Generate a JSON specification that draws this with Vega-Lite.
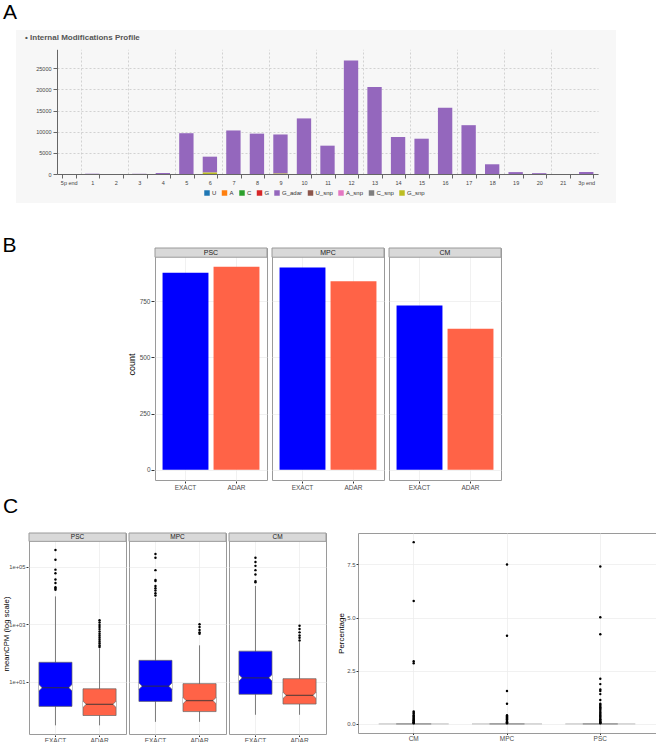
{
  "$schema": "https://vega.github.io/schema/vega-lite/v6.json",
  "padding": {"left": 1, "top": 2, "right": 0, "bottom": 0},
  "background": "white",
  "spacing": 5,
  "resolve": {"scale": {"color": "independent"}},
  "config": {
    "font": "Liberation Sans",
    "view": {"stroke": "#9a9a9a", "strokeWidth": 1},
    "axis": {"labelFont": "Liberation Sans", "titleFont": "Liberation Sans", "titleFontWeight": "normal", "labelOverlap": false},
    "title": {"font": "Liberation Sans", "fontWeight": "normal", "color": "black"}
  },
  "datasets": {
    "spacer": [],
    "mods": [
      {"position": "5p end", "type": "G_adar", "count": 0},
      {"position": "1", "type": "G_adar", "count": 70},
      {"position": "2", "type": "G_adar", "count": 0},
      {"position": "3", "type": "G_adar", "count": 50},
      {"position": "4", "type": "G_adar", "count": 240},
      {"position": "5", "type": "G_adar", "count": 9650},
      {"position": "6", "type": "G_adar", "count": 3750},
      {"position": "6", "type": "G_snp", "count": 350},
      {"position": "7", "type": "G_adar", "count": 10300},
      {"position": "8", "type": "G_adar", "count": 9550},
      {"position": "9", "type": "G_adar", "count": 9250},
      {"position": "9", "type": "G_snp", "count": 100},
      {"position": "10", "type": "G_adar", "count": 13150},
      {"position": "11", "type": "G_adar", "count": 6700},
      {"position": "12", "type": "G_adar", "count": 26850},
      {"position": "13", "type": "G_adar", "count": 20600},
      {"position": "14", "type": "G_adar", "count": 8750},
      {"position": "15", "type": "G_adar", "count": 8350},
      {"position": "16", "type": "G_adar", "count": 15650},
      {"position": "17", "type": "G_adar", "count": 11550},
      {"position": "18", "type": "G_adar", "count": 2300},
      {"position": "19", "type": "G_adar", "count": 450},
      {"position": "20", "type": "G_adar", "count": 200},
      {"position": "21", "type": "G_adar", "count": 0},
      {"position": "3p end", "type": "G_adar", "count": 480}
    ],
    "counts": [
      {"stage": "PSC", "method": "EXACT", "count": 876},
      {"stage": "PSC", "method": "ADAR", "count": 903},
      {"stage": "MPC", "method": "EXACT", "count": 899},
      {"stage": "MPC", "method": "ADAR", "count": 838},
      {"stage": "CM", "method": "EXACT", "count": 730},
      {"stage": "CM", "method": "ADAR", "count": 627}
    ],
    "cpm": [
      {"stage": "PSC", "method": "EXACT", "kind": "box", "lower": 0.31, "q1": 1.41, "median": 6.3, "q3": 48, "upper": 9300},
      {"stage": "PSC", "method": "ADAR", "kind": "box", "lower": 0.31, "q1": 0.68, "median": 1.66, "q3": 5.75, "upper": 145},
      {"stage": "MPC", "method": "EXACT", "kind": "box", "lower": 0.41, "q1": 2.1, "median": 7.1, "q3": 56, "upper": 8100},
      {"stage": "MPC", "method": "ADAR", "kind": "box", "lower": 0.41, "q1": 0.93, "median": 2.24, "q3": 8.7, "upper": 186},
      {"stage": "CM", "method": "EXACT", "kind": "box", "lower": 0.72, "q1": 3.7, "median": 13.8, "q3": 117, "upper": 21400},
      {"stage": "CM", "method": "ADAR", "kind": "box", "lower": 0.72, "q1": 1.7, "median": 3.4, "q3": 12.9, "upper": 240},
      {"stage": "PSC", "method": "EXACT", "kind": "outlier", "value": 380000},
      {"stage": "PSC", "method": "EXACT", "kind": "outlier", "value": 174000},
      {"stage": "PSC", "method": "EXACT", "kind": "outlier", "value": 79000},
      {"stage": "PSC", "method": "EXACT", "kind": "outlier", "value": 59000},
      {"stage": "PSC", "method": "EXACT", "kind": "outlier", "value": 36000},
      {"stage": "PSC", "method": "EXACT", "kind": "outlier", "value": 27000},
      {"stage": "PSC", "method": "EXACT", "kind": "outlier", "value": 19500},
      {"stage": "PSC", "method": "EXACT", "kind": "outlier", "value": 17500},
      {"stage": "PSC", "method": "EXACT", "kind": "outlier", "value": 15800},
      {"stage": "PSC", "method": "ADAR", "kind": "outlier", "value": 1380},
      {"stage": "PSC", "method": "ADAR", "kind": "outlier", "value": 1150},
      {"stage": "PSC", "method": "ADAR", "kind": "outlier", "value": 950},
      {"stage": "PSC", "method": "ADAR", "kind": "outlier", "value": 800},
      {"stage": "PSC", "method": "ADAR", "kind": "outlier", "value": 680},
      {"stage": "PSC", "method": "ADAR", "kind": "outlier", "value": 560},
      {"stage": "PSC", "method": "ADAR", "kind": "outlier", "value": 470},
      {"stage": "PSC", "method": "ADAR", "kind": "outlier", "value": 400},
      {"stage": "PSC", "method": "ADAR", "kind": "outlier", "value": 340},
      {"stage": "PSC", "method": "ADAR", "kind": "outlier", "value": 290},
      {"stage": "PSC", "method": "ADAR", "kind": "outlier", "value": 250},
      {"stage": "PSC", "method": "ADAR", "kind": "outlier", "value": 215},
      {"stage": "PSC", "method": "ADAR", "kind": "outlier", "value": 185},
      {"stage": "PSC", "method": "ADAR", "kind": "outlier", "value": 162},
      {"stage": "MPC", "method": "EXACT", "kind": "outlier", "value": 275000},
      {"stage": "MPC", "method": "EXACT", "kind": "outlier", "value": 204000},
      {"stage": "MPC", "method": "EXACT", "kind": "outlier", "value": 76000},
      {"stage": "MPC", "method": "EXACT", "kind": "outlier", "value": 34700},
      {"stage": "MPC", "method": "EXACT", "kind": "outlier", "value": 31600},
      {"stage": "MPC", "method": "EXACT", "kind": "outlier", "value": 21400},
      {"stage": "MPC", "method": "EXACT", "kind": "outlier", "value": 17800},
      {"stage": "MPC", "method": "EXACT", "kind": "outlier", "value": 14800},
      {"stage": "MPC", "method": "EXACT", "kind": "outlier", "value": 12000},
      {"stage": "MPC", "method": "EXACT", "kind": "outlier", "value": 10000},
      {"stage": "MPC", "method": "ADAR", "kind": "outlier", "value": 1000},
      {"stage": "MPC", "method": "ADAR", "kind": "outlier", "value": 810},
      {"stage": "MPC", "method": "ADAR", "kind": "outlier", "value": 630},
      {"stage": "MPC", "method": "ADAR", "kind": "outlier", "value": 525},
      {"stage": "MPC", "method": "ADAR", "kind": "outlier", "value": 470},
      {"stage": "CM", "method": "EXACT", "kind": "outlier", "value": 204000},
      {"stage": "CM", "method": "EXACT", "kind": "outlier", "value": 145000},
      {"stage": "CM", "method": "EXACT", "kind": "outlier", "value": 107000},
      {"stage": "CM", "method": "EXACT", "kind": "outlier", "value": 76000},
      {"stage": "CM", "method": "EXACT", "kind": "outlier", "value": 54000},
      {"stage": "CM", "method": "EXACT", "kind": "outlier", "value": 31600},
      {"stage": "CM", "method": "EXACT", "kind": "outlier", "value": 28800},
      {"stage": "CM", "method": "ADAR", "kind": "outlier", "value": 890},
      {"stage": "CM", "method": "ADAR", "kind": "outlier", "value": 690},
      {"stage": "CM", "method": "ADAR", "kind": "outlier", "value": 525},
      {"stage": "CM", "method": "ADAR", "kind": "outlier", "value": 410},
      {"stage": "CM", "method": "ADAR", "kind": "outlier", "value": 340},
      {"stage": "CM", "method": "ADAR", "kind": "outlier", "value": 275}
    ],
    "pct": [
      {"stage": "CM", "kind": "box", "q1": 0, "median": 0, "q3": 0},
      {"stage": "MPC", "kind": "box", "q1": 0, "median": 0, "q3": 0},
      {"stage": "PSC", "kind": "box", "q1": 0, "median": 0, "q3": 0},
      {"stage": "CM", "kind": "outlier", "Percentage": 8.55},
      {"stage": "CM", "kind": "outlier", "Percentage": 5.78},
      {"stage": "CM", "kind": "outlier", "Percentage": 2.95},
      {"stage": "CM", "kind": "outlier", "Percentage": 2.85},
      {"stage": "CM", "kind": "outlier", "Percentage": 0.58},
      {"stage": "CM", "kind": "outlier", "Percentage": 0.52},
      {"stage": "CM", "kind": "outlier", "Percentage": 0.47},
      {"stage": "CM", "kind": "outlier", "Percentage": 0.41},
      {"stage": "CM", "kind": "outlier", "Percentage": 0.36},
      {"stage": "CM", "kind": "outlier", "Percentage": 0.3},
      {"stage": "CM", "kind": "outlier", "Percentage": 0.25},
      {"stage": "CM", "kind": "outlier", "Percentage": 0.21},
      {"stage": "CM", "kind": "outlier", "Percentage": 0.17},
      {"stage": "CM", "kind": "outlier", "Percentage": 0.13},
      {"stage": "CM", "kind": "outlier", "Percentage": 0.1},
      {"stage": "CM", "kind": "outlier", "Percentage": 0.07},
      {"stage": "CM", "kind": "outlier", "Percentage": 0.05},
      {"stage": "CM", "kind": "outlier", "Percentage": 0.03},
      {"stage": "MPC", "kind": "outlier", "Percentage": 7.5},
      {"stage": "MPC", "kind": "outlier", "Percentage": 4.15},
      {"stage": "MPC", "kind": "outlier", "Percentage": 1.55},
      {"stage": "MPC", "kind": "outlier", "Percentage": 0.95},
      {"stage": "MPC", "kind": "outlier", "Percentage": 0.41},
      {"stage": "MPC", "kind": "outlier", "Percentage": 0.36},
      {"stage": "MPC", "kind": "outlier", "Percentage": 0.31},
      {"stage": "MPC", "kind": "outlier", "Percentage": 0.26},
      {"stage": "MPC", "kind": "outlier", "Percentage": 0.22},
      {"stage": "MPC", "kind": "outlier", "Percentage": 0.18},
      {"stage": "MPC", "kind": "outlier", "Percentage": 0.14},
      {"stage": "MPC", "kind": "outlier", "Percentage": 0.1},
      {"stage": "MPC", "kind": "outlier", "Percentage": 0.07},
      {"stage": "MPC", "kind": "outlier", "Percentage": 0.05},
      {"stage": "MPC", "kind": "outlier", "Percentage": 0.03},
      {"stage": "PSC", "kind": "outlier", "Percentage": 7.4},
      {"stage": "PSC", "kind": "outlier", "Percentage": 5.02},
      {"stage": "PSC", "kind": "outlier", "Percentage": 4.22},
      {"stage": "PSC", "kind": "outlier", "Percentage": 2.12},
      {"stage": "PSC", "kind": "outlier", "Percentage": 1.87},
      {"stage": "PSC", "kind": "outlier", "Percentage": 1.62},
      {"stage": "PSC", "kind": "outlier", "Percentage": 1.55},
      {"stage": "PSC", "kind": "outlier", "Percentage": 1.4},
      {"stage": "PSC", "kind": "outlier", "Percentage": 1.12},
      {"stage": "PSC", "kind": "outlier", "Percentage": 0.95},
      {"stage": "PSC", "kind": "outlier", "Percentage": 0.9},
      {"stage": "PSC", "kind": "outlier", "Percentage": 0.84},
      {"stage": "PSC", "kind": "outlier", "Percentage": 0.78},
      {"stage": "PSC", "kind": "outlier", "Percentage": 0.72},
      {"stage": "PSC", "kind": "outlier", "Percentage": 0.66},
      {"stage": "PSC", "kind": "outlier", "Percentage": 0.6},
      {"stage": "PSC", "kind": "outlier", "Percentage": 0.54},
      {"stage": "PSC", "kind": "outlier", "Percentage": 0.48},
      {"stage": "PSC", "kind": "outlier", "Percentage": 0.42},
      {"stage": "PSC", "kind": "outlier", "Percentage": 0.37},
      {"stage": "PSC", "kind": "outlier", "Percentage": 0.32},
      {"stage": "PSC", "kind": "outlier", "Percentage": 0.27},
      {"stage": "PSC", "kind": "outlier", "Percentage": 0.22},
      {"stage": "PSC", "kind": "outlier", "Percentage": 0.18},
      {"stage": "PSC", "kind": "outlier", "Percentage": 0.14},
      {"stage": "PSC", "kind": "outlier", "Percentage": 0.1},
      {"stage": "PSC", "kind": "outlier", "Percentage": 0.07},
      {"stage": "PSC", "kind": "outlier", "Percentage": 0.05},
      {"stage": "PSC", "kind": "outlier", "Percentage": 0.03}
    ]
  },
  "vconcat": [
    {
      "spacing": 31,
      "resolve": {"scale": {"color": "independent"}},
      "vconcat": [
        {
          "title": {"text": "A", "anchor": "start", "frame": "group", "fontSize": 21, "dx": 2, "offset": 7},
          "spacing": 14,
          "hconcat": [
            {"width": 1, "height": 1, "view": {"stroke": null}, "data": {"name": "spacer"}, "mark": {"type": "point", "opacity": 0}, "encoding": {}},
            {
              "width": 600,
              "height": 173,
              "view": {"fill": "#f7f7f7", "stroke": null},
              "title": {"text": "•  Internal Modifications Profile", "anchor": "start", "frame": "group", "fontSize": 8, "fontWeight": "bold", "color": "#555555", "baseline": "middle", "offset": 0, "dy": 16, "dx": 9},
              "data": {"name": "mods"},
              "layer": [
                {
                  "mark": {"type": "bar", "opacity": 0},
                  "encoding": {
                    "x": {"field": "position", "type": "nominal",
                      "scale": {"domain": ["5p end","1","2","3","4","5","6","7","8","9","10","11","12","13","14","15","16","17","18","19","20","21","3p end"], "range": [41, 582], "paddingInner": 0.39, "paddingOuter": 0.195},
                      "axis": {"orient": "top", "values": ["1","3","5","7","9","11","13","15","17","19","21"], "bandPosition": 0, "tickOffset": -4.6, "grid": true, "gridDash": [2, 2], "gridColor": "#c8c8c8", "gridWidth": 0.8, "labels": false, "ticks": false, "domain": false, "title": null}},
                    "y": {"field": "count", "type": "quantitative",
                      "scale": {"domain": [0, 29500], "range": [144, 19.3], "nice": false},
                      "axis": {"orient": "left", "offset": -41, "values": [0, 5000, 10000, 15000, 20000, 25000], "format": "d", "labelFontSize": 5.5, "labelColor": "#444", "tickSize": 4, "tickColor": "#666", "domainColor": "#666", "grid": true, "gridDash": [2, 2], "gridColor": "#c8c8c8", "gridWidth": 0.8, "title": null, "labelPadding": 2, "labelOverlap": false}}
                  }
                },
                {
                  "mark": {"type": "bar"},
                  "encoding": {
                    "x": {"field": "position", "type": "nominal",
                      "axis": {"orient": "bottom", "offset": -29, "tickBand": "extent", "labelAngle": 0, "labelFontSize": 5.5, "labelColor": "#444", "tickSize": 4, "tickColor": "#666", "domainColor": "#666", "grid": false, "title": null, "labelPadding": 2}},
                    "y": {"field": "count", "type": "quantitative",
                      "axis": {"orient": "left", "offset": -41, "values": [0, 5000, 10000, 15000, 20000, 25000], "format": "d", "labelFontSize": 5.5, "labelColor": "#444", "tickSize": 4, "tickColor": "#666", "domainColor": "#666", "grid": true, "gridDash": [2, 2], "gridColor": "#c8c8c8", "gridWidth": 0.8, "title": null, "labelPadding": 2, "labelOverlap": false}},
                    "color": {"field": "type", "type": "nominal",
                      "scale": {"domain": ["U","A","C","G","G_adar","U_snp","A_snp","C_snp","G_snp"], "range": ["#1f77b4","#ff7f0e","#2ca02c","#d62728","#9467bd","#8c564b","#e377c2","#7f7f7f","#bcbd22"]},
                      "legend": {"orient": "none", "legendX": 203, "legendY": 160, "direction": "horizontal", "title": null, "symbolType": "square", "symbolSize": 30, "symbolStrokeWidth": 0, "symbolOpacity": 1, "labelFontSize": 6, "labelColor": "#333", "columnPadding": 4.5, "labelOffset": 2, "padding": 0}},
                    "order": {"field": "type", "sort": "descending"}
                  }
                }
              ],
              "resolve": {"axis": {"x": "independent"}}
            }
          ]
        },
        {
          "title": {"text": "B", "anchor": "start", "frame": "group", "fontSize": 21, "dx": 1.5, "offset": -8.6},
          "spacing": 125,
          "hconcat": [
            {"width": 1, "height": 1, "view": {"stroke": null}, "data": {"name": "spacer"}, "mark": {"type": "point", "opacity": 0}, "encoding": {}},
            {
              "data": {"name": "counts"},
              "facet": {"column": {"field": "stage", "type": "nominal", "sort": ["PSC","MPC","CM"], "header": {"title": null, "labels": false}}},
              "spacing": 3,
              "spec": {
                "width": 112,
                "height": 232,
                "encoding": {
                  "x": {"field": "method", "type": "nominal", "sort": ["EXACT","ADAR"],
                    "scale": {"paddingInner": 0.1, "paddingOuter": 0.148},
                    "axis": {"title": null, "labelAngle": 0, "labelFontSize": 6.5, "labelColor": "#4d4d4d", "tickSize": 2, "tickColor": "#333", "domain": false, "grid": true, "gridColor": "#ebebeb", "gridWidth": 0.7, "bandPosition": 0.5, "labelPadding": 1}}
                },
                "layer": [
                  {
                    "mark": {"type": "bar"},
                    "encoding": {
                      "y": {"field": "count", "type": "quantitative",
                        "scale": {"domain": [-45, 986], "nice": false, "zero": false},
                        "axis": {"values": [0, 250, 500, 750], "title": "count", "titleFontSize": 9, "titleColor": "black", "labelFontSize": 6.5, "labelColor": "#4d4d4d", "tickColor": "#333", "tickSize": 3, "domain": false, "gridColor": "#ebebeb", "gridWidth": 0.7, "labelPadding": 1, "titlePadding": 3}},
                      "color": {"field": "method", "type": "nominal", "scale": {"domain": ["EXACT","ADAR"], "range": ["#0000ff","#ff6347"]}, "legend": null}
                    }
                  },
                  {
                    "transform": [{"filter": "datum.method === 'EXACT'"}],
                    "mark": {"type": "rect", "fill": "#d9d9d9", "stroke": "#9a9a9a", "strokeWidth": 1},
                    "encoding": {"x": {"value": 0}, "x2": {"value": "width"}, "y": {"datum": 945}, "y2": {"datum": 986}}
                  },
                  {
                    "transform": [{"filter": "datum.method === 'EXACT'"}],
                    "mark": {"type": "text", "fontSize": 7, "color": "#1a1a1a", "baseline": "middle", "align": "center", "dx": 2.5},
                    "encoding": {
                      "x": {"field": "method", "type": "nominal", "bandPosition": 1},
                      "y": {"datum": 965.5},
                      "text": {"field": "stage"}
                    }
                  }
                ]
              }
            }
          ]
        }
      ]
    },
    {
      "title": {"text": "C", "anchor": "start", "frame": "group", "fontSize": 21, "offset": 15, "dx": 2},
      "spacing": 0,
      "hconcat": [
        {"width": 1, "height": 1, "view": {"stroke": null}, "data": {"name": "spacer"}, "mark": {"type": "point", "opacity": 0}, "encoding": {}},
        {
          "spacing": 10,
          "hconcat": [
            {
              "data": {"name": "cpm"},
              "facet": {"column": {"field": "stage", "type": "nominal", "sort": ["PSC","MPC","CM"], "header": {"title": null, "labels": false}}},
              "spacing": 1,
              "spec": {
                "width": 97,
                "height": 201,
                "encoding": {
                  "x": {"field": "method", "type": "nominal", "sort": ["EXACT","ADAR"],
                    "scale": {"paddingInner": 0.25, "paddingOuter": 0.225},
                    "axis": {"title": null, "labelAngle": 0, "labelFontSize": 6.5, "labelColor": "#4d4d4d", "tickSize": 1.5, "tickColor": "#333", "domain": false, "grid": true, "gridColor": "#ebebeb", "gridWidth": 0.7, "bandPosition": 0.5, "labelPadding": 0.5}}
                },
                "layer": [
                  {
                    "transform": [{"filter": "datum.kind === 'box'"}],
                    "mark": {"type": "rule", "color": "#7a7a7a", "strokeWidth": 1},
                    "encoding": {
                      "y": {"field": "lower", "type": "quantitative",
                        "scale": {"type": "log", "domain": [0.155, 1480000], "nice": false},
                        "axis": {"values": [10, 1000, 100000], "labelExpr": "replace(format(datum.value, '.0e'), '+', '+0')", "title": "meanCPM (log scale)", "titleFontSize": 7.8, "titleColor": "black", "labelFontSize": 5.8, "labelColor": "#4d4d4d", "tickColor": "#333", "tickSize": 2, "domain": false, "gridColor": "#ebebeb", "gridWidth": 0.7, "labelPadding": 1, "titlePadding": 0, "maxExtent": 18}},
                      "y2": {"field": "upper"}
                    }
                  },
                  {
                    "transform": [{"filter": "datum.kind === 'box'"}],
                    "mark": {"type": "bar", "stroke": "#666", "strokeWidth": 0.7},
                    "encoding": {
                      "y": {"field": "q1", "type": "quantitative"},
                      "y2": {"field": "q3"},
                      "color": {"field": "method", "type": "nominal", "scale": {"domain": ["EXACT","ADAR"], "range": ["#0000ff","#ff6347"]}, "legend": null}
                    }
                  },
                  {
                    "transform": [{"filter": "datum.kind === 'box'"}],
                    "mark": {"type": "point", "shape": "M0,-1L1,0L0,1", "size": 40, "fill": "white", "stroke": "#666", "strokeWidth": 0.7, "opacity": 1, "filled": true},
                    "encoding": {
                      "x": {"field": "method", "type": "nominal", "bandPosition": 0},
                      "y": {"field": "median", "type": "quantitative"}
                    }
                  },
                  {
                    "transform": [{"filter": "datum.kind === 'box'"}],
                    "mark": {"type": "point", "shape": "M0,-1L-1,0L0,1", "size": 40, "fill": "white", "stroke": "#666", "strokeWidth": 0.7, "opacity": 1, "filled": true},
                    "encoding": {
                      "x": {"field": "method", "type": "nominal", "bandPosition": 1},
                      "y": {"field": "median", "type": "quantitative"}
                    }
                  },
                  {
                    "transform": [{"filter": "datum.kind === 'box'"}],
                    "mark": {"type": "tick", "size": 27, "thickness": 1.3, "color": "#333"},
                    "encoding": {"y": {"field": "median", "type": "quantitative"}}
                  },
                  {
                    "transform": [{"filter": "datum.kind === 'outlier'"}],
                    "mark": {"type": "point", "filled": true, "size": 6, "color": "black", "opacity": 1},
                    "encoding": {"y": {"field": "value", "type": "quantitative"}}
                  },
                  {
                    "transform": [{"filter": "datum.kind === 'box' && datum.method === 'EXACT'"}],
                    "mark": {"type": "rect", "fill": "#d9d9d9", "stroke": "#9a9a9a", "strokeWidth": 1},
                    "encoding": {"x": {"value": 0}, "x2": {"value": "width"}, "y": {"datum": 758000}, "y2": {"datum": 1480000}}
                  },
                  {
                    "transform": [{"filter": "datum.kind === 'box' && datum.method === 'EXACT'"}],
                    "mark": {"type": "text", "fontSize": 6.5, "color": "#1a1a1a", "baseline": "middle", "align": "center", "dx": 5.5},
                    "encoding": {
                      "x": {"field": "method", "type": "nominal", "bandPosition": 1},
                      "y": {"datum": 1060000},
                      "text": {"field": "stage"}
                    }
                  }
                ]
              }
            },
            {
              "width": 298,
              "height": 200,
              "data": {"name": "pct"},
              "encoding": {
                "x": {"field": "stage", "type": "nominal", "sort": ["CM","MPC","PSC"],
                  "scale": {"paddingInner": 0.25, "paddingOuter": 0.222},
                  "axis": {"title": null, "labelAngle": 0, "labelFontSize": 6.5, "labelColor": "#4d4d4d", "tickSize": 1.5, "tickColor": "#333", "domain": false, "grid": true, "gridColor": "#ebebeb", "gridWidth": 0.7, "bandPosition": 0.5, "labelPadding": 0.5}}
              },
              "layer": [
                {
                  "transform": [{"filter": "datum.kind === 'box'"}],
                  "mark": {"type": "tick", "size": 70, "thickness": 1.3, "color": "#b3b3b3"},
                  "encoding": {
                    "y": {"field": "q1", "type": "quantitative",
                      "scale": {"domain": [-0.43, 8.98], "nice": false, "zero": false},
                      "axis": {"values": [0, 2.5, 5, 7.5], "format": ".1f", "title": "Percentage", "titleFontSize": 8, "titleColor": "black", "labelFontSize": 6, "labelColor": "#4d4d4d", "tickColor": "#333", "tickSize": 2, "domain": false, "gridColor": "#ebebeb", "gridWidth": 0.7, "labelPadding": 1, "titlePadding": 1}}
                  }
                },
                {
                  "transform": [{"filter": "datum.kind === 'box'"}],
                  "mark": {"type": "tick", "size": 35, "thickness": 1.6, "color": "#8c8c8c"},
                  "encoding": {"y": {"field": "median", "type": "quantitative"}}
                },
                {
                  "transform": [{"filter": "datum.kind === 'outlier'"}],
                  "mark": {"type": "point", "filled": true, "size": 6, "color": "black", "opacity": 1},
                  "encoding": {"y": {"field": "Percentage", "type": "quantitative"}}
                }
              ]
            }
          ]
        }
      ]
    }
  ]
}
